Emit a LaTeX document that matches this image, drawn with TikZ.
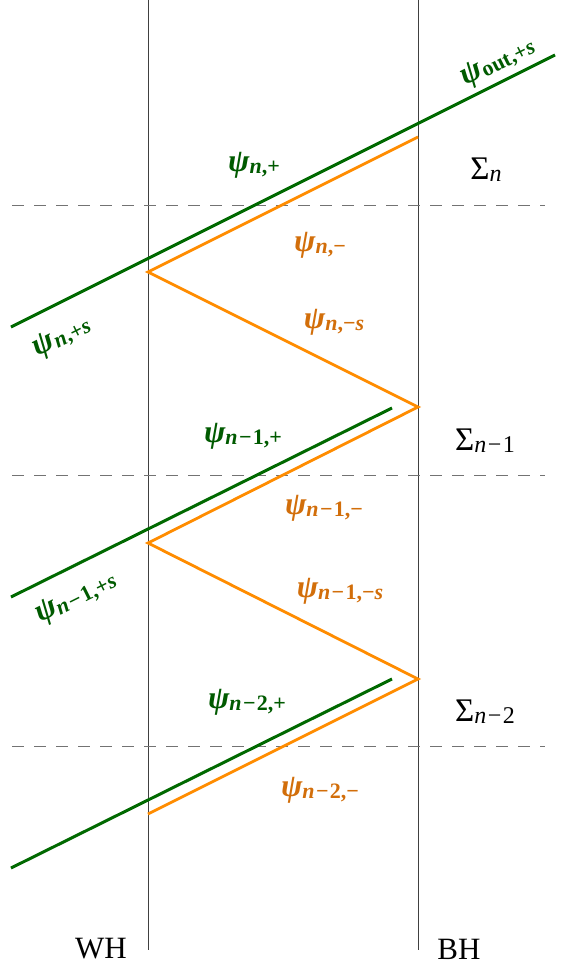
\documentclass[tikz,border=0pt]{standalone}
\usepackage{fontspec}
\setmainfont{Liberation Serif}
\definecolor{lgreen}{RGB}{0,105,0}
\definecolor{tgreen}{RGB}{0,90,0}
\definecolor{lorange}{RGB}{255,140,0}
\definecolor{torange}{RGB}{210,110,10}
\newcommand{\mns}{\hspace{0.06em}−\hspace{0.06em}}
\newcommand{\psilab}[1]{{\fontsize{32}{32}\selectfont\bfseries\itshape ψ}\raisebox{-0.45ex}{\fontsize{22}{22}\selectfont\bfseries #1}}
\newcommand{\siglab}[1]{{\fontsize{33}{33}\selectfont Σ}\raisebox{-0.5ex}{\fontsize{24}{24}\selectfont #1}}
\tikzset{
  horizon/.style={draw=black!75, line width=0.9pt},
  slice/.style={draw=black!55, line width=1pt, dash pattern=on 12pt off 10pt},
  greenray/.style={draw=lgreen, line width=3pt},
  orangeray/.style={draw=lorange, line width=2.8pt, line join=miter},
  glab/.style={text=tgreen, inner sep=0pt},
  olab/.style={text=torange, inner sep=0pt},
  slab/.style={text=black, inner sep=0pt},
  hlab/.style={text=black, inner sep=0pt, font=\fontsize{31}{31}\selectfont},
}
\begin{document}
\begin{tikzpicture}[x=1pt,y=-1pt]
\useasboundingbox (0,0) rectangle (563,969);
% horizons
\coordinate (wht) at (148,0); \coordinate (whb) at (148,950);
\coordinate (bht) at (418,0); \coordinate (bhb) at (418,950);
\draw[horizon] (wht) -- (whb);
\draw[horizon] (bht) -- (bhb);
% slices
\coordinate (s1l) at (12,205); \coordinate (s1r) at (545,205);
\coordinate (s2l) at (12,475); \coordinate (s2r) at (545,475);
\coordinate (s3l) at (12,746); \coordinate (s3r) at (545,746);
\draw[slice] (s1l) -- (s1r);
\draw[slice] (s2l) -- (s2r);
\draw[slice] (s3l) -- (s3r);
% orange zigzag
\coordinate (o1) at (418,137);
\coordinate (o2) at (148,272);
\coordinate (o3) at (418,407);
\coordinate (o4) at (148,543);
\coordinate (o5) at (418,679);
\coordinate (o6) at (148,814);
\draw[orangeray] (o1) -- (o2) -- (o3) -- (o4) -- (o5) -- (o6);
% green rays
\coordinate (g1a) at (11,327); \coordinate (g1b) at (555,55);
\coordinate (g2a) at (11,597); \coordinate (g2b) at (392,408);
\coordinate (g3a) at (11,868); \coordinate (g3b) at (392,679);
\draw[greenray] (g1a) -- (g1b);
\draw[greenray] (g2a) -- (g2b);
\draw[greenray] (g3a) -- (g3b);
% labels
\node[glab, rotate=26.57] (lout) at (498,62) {\psilab{out,+\textit{s}}};
\node[glab] (lnp) at (254,165) {\psilab{\textit{n},+}};
\node[glab, rotate=26.57] (lnps) at (62,337) {\psilab{\textit{n},+\textit{s}}};
\node[olab] (lnm) at (320,245) {\psilab{\textit{n},−}};
\node[olab] (lnms) at (334,322) {\psilab{\textit{n},−\textit{s}}};
\node[glab] (ln1p) at (243,436) {\psilab{\textit{n}\mns 1,+}};
\node[olab] (ln1m) at (324,508) {\psilab{\textit{n}\mns 1,−}};
\node[olab] (ln1ms) at (340,591) {\psilab{\textit{n}\mns 1,−\textit{s}}};
\node[glab, rotate=26.57] (ln1ps) at (76,598) {\psilab{\textit{n}\mns 1,+\textit{s}}};
\node[glab] (ln2p) at (247,702) {\psilab{\textit{n}\mns 2,+}};
\node[olab] (ln2m) at (320,790) {\psilab{\textit{n}\mns 2,−}};
\node[slab] (sn) at (486,170) {\siglab{\textit{n}}};
\node[slab] (sn1) at (485,441) {\siglab{\textit{n}\mns 1}};
\node[slab] (sn2) at (485,712) {\siglab{\textit{n}\mns 2}};
\node[hlab] (wh) at (101,949) {WH};
\node[hlab] (bh) at (459,949) {BH};
\end{tikzpicture}
\end{document}
